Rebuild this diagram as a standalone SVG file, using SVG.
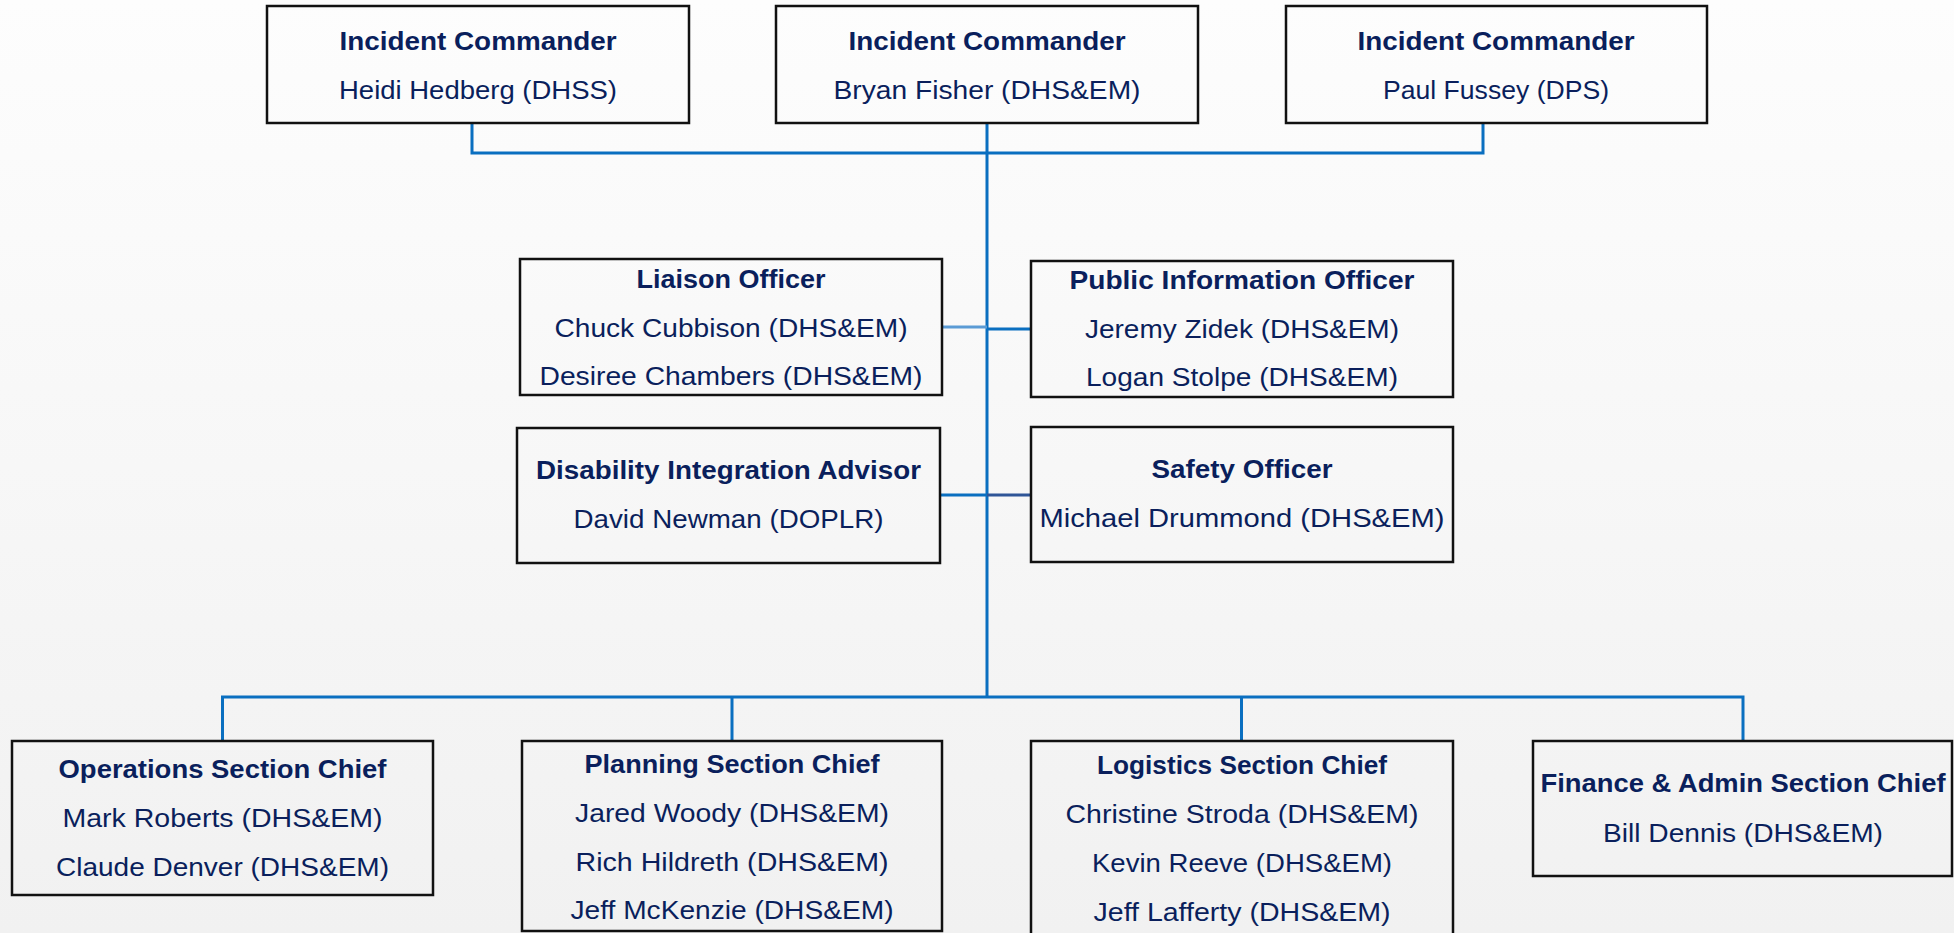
<svg xmlns="http://www.w3.org/2000/svg" width="1954" height="933" viewBox="0 0 1954 933">
<defs>
<linearGradient id="bg" x1="0" y1="0" x2="0" y2="1">
<stop offset="0" stop-color="#FDFDFD"/>
<stop offset="1" stop-color="#F1F1F1"/>
</linearGradient>
<style>
.box{fill:none;stroke:#111111;stroke-width:2.5}
.t{font-family:"Liberation Sans",Arial,sans-serif;font-size:26px;font-weight:bold;fill:#0A1F5C;text-anchor:middle}
.n{font-family:"Liberation Sans",Arial,sans-serif;font-size:26px;fill:#0A1F5C;text-anchor:middle}
.c{fill:none;stroke:#0A6FC0;stroke-width:3}
.cl{fill:none;stroke:#5B9BD5;stroke-width:3}
.cd{fill:none;stroke:#2F5597;stroke-width:3}
</style>
</defs>
<rect x="0" y="0" width="1954" height="933" fill="url(#bg)"/>

<g id="connectors">
<path class="c" d="M472 123 V153 H1483 V123"/>
<path class="c" d="M987 123 V697"/>
<path class="cl" d="M942 327 H987"/>
<path class="c" d="M987 329 H1031"/>
<path class="c" d="M940 495 H987"/>
<path class="cd" d="M987 495 H1031"/>
<path class="c" d="M222.5 741 V697 H1743 V741"/>
<path class="c" d="M732 697 V741"/>
<path class="c" d="M1241.5 697 V741"/>
</g>

<g id="ic1">
<rect class="box" x="267" y="6" width="422" height="117"/>
<text class="t" x="478" y="50" textLength="277" lengthAdjust="spacingAndGlyphs">Incident Commander</text>
<text class="n" x="478" y="99" textLength="278" lengthAdjust="spacingAndGlyphs">Heidi Hedberg (DHSS)</text>
</g>
<g id="ic2">
<rect class="box" x="776" y="6" width="422" height="117"/>
<text class="t" x="987" y="50" textLength="277" lengthAdjust="spacingAndGlyphs">Incident Commander</text>
<text class="n" x="987" y="99" textLength="307" lengthAdjust="spacingAndGlyphs">Bryan Fisher (DHS&amp;EM)</text>
</g>
<g id="ic3">
<rect class="box" x="1286" y="6" width="421" height="117"/>
<text class="t" x="1496" y="50" textLength="277" lengthAdjust="spacingAndGlyphs">Incident Commander</text>
<text class="n" x="1496" y="99" textLength="226" lengthAdjust="spacingAndGlyphs">Paul Fussey (DPS)</text>
</g>

<g id="liaison">
<rect class="box" x="520" y="259" width="422" height="136"/>
<text class="t" x="731" y="288" textLength="189" lengthAdjust="spacingAndGlyphs">Liaison Officer</text>
<text class="n" x="731" y="337" textLength="353" lengthAdjust="spacingAndGlyphs">Chuck Cubbison (DHS&amp;EM)</text>
<text class="n" x="731" y="385" textLength="383" lengthAdjust="spacingAndGlyphs">Desiree Chambers (DHS&amp;EM)</text>
</g>
<g id="pio">
<rect class="box" x="1031" y="261" width="422" height="136"/>
<text class="t" x="1242" y="289" textLength="345" lengthAdjust="spacingAndGlyphs">Public Information Officer</text>
<text class="n" x="1242" y="338" textLength="314" lengthAdjust="spacingAndGlyphs">Jeremy Zidek (DHS&amp;EM)</text>
<text class="n" x="1242" y="386" textLength="312" lengthAdjust="spacingAndGlyphs">Logan Stolpe (DHS&amp;EM)</text>
</g>
<g id="dia">
<rect class="box" x="517" y="428" width="423" height="135"/>
<text class="t" x="728.5" y="479" textLength="385" lengthAdjust="spacingAndGlyphs">Disability Integration Advisor</text>
<text class="n" x="728.5" y="528" textLength="310" lengthAdjust="spacingAndGlyphs">David Newman (DOPLR)</text>
</g>
<g id="safety">
<rect class="box" x="1031" y="427" width="422" height="135"/>
<text class="t" x="1242" y="478" textLength="181" lengthAdjust="spacingAndGlyphs">Safety Officer</text>
<text class="n" x="1242" y="527" textLength="405" lengthAdjust="spacingAndGlyphs">Michael Drummond (DHS&amp;EM)</text>
</g>

<g id="ops">
<rect class="box" x="12" y="741" width="421" height="154"/>
<text class="t" x="222.5" y="778" textLength="328" lengthAdjust="spacingAndGlyphs">Operations Section Chief</text>
<text class="n" x="222.5" y="827" textLength="320" lengthAdjust="spacingAndGlyphs">Mark Roberts (DHS&amp;EM)</text>
<text class="n" x="222.5" y="876" textLength="333" lengthAdjust="spacingAndGlyphs">Claude Denver (DHS&amp;EM)</text>
</g>
<g id="planning">
<rect class="box" x="522" y="741" width="420" height="190"/>
<text class="t" x="732" y="773" textLength="295" lengthAdjust="spacingAndGlyphs">Planning Section Chief</text>
<text class="n" x="732" y="822" textLength="314" lengthAdjust="spacingAndGlyphs">Jared Woody (DHS&amp;EM)</text>
<text class="n" x="732" y="871" textLength="313" lengthAdjust="spacingAndGlyphs">Rich Hildreth (DHS&amp;EM)</text>
<text class="n" x="732" y="919" textLength="323" lengthAdjust="spacingAndGlyphs">Jeff McKenzie (DHS&amp;EM)</text>
</g>
<g id="logistics">
<rect class="box" x="1031" y="741" width="422" height="200"/>
<text class="t" x="1242" y="774" textLength="290" lengthAdjust="spacingAndGlyphs">Logistics Section Chief</text>
<text class="n" x="1242" y="823" textLength="353" lengthAdjust="spacingAndGlyphs">Christine Stroda (DHS&amp;EM)</text>
<text class="n" x="1242" y="872" textLength="300" lengthAdjust="spacingAndGlyphs">Kevin Reeve (DHS&amp;EM)</text>
<text class="n" x="1242" y="921" textLength="297" lengthAdjust="spacingAndGlyphs">Jeff Lafferty (DHS&amp;EM)</text>
</g>
<g id="finance">
<rect class="box" x="1533" y="741" width="419" height="135"/>
<text class="t" x="1743" y="792" textLength="405" lengthAdjust="spacingAndGlyphs">Finance &amp; Admin Section Chief</text>
<text class="n" x="1743" y="842" textLength="280" lengthAdjust="spacingAndGlyphs">Bill Dennis (DHS&amp;EM)</text>
</g>
</svg>
